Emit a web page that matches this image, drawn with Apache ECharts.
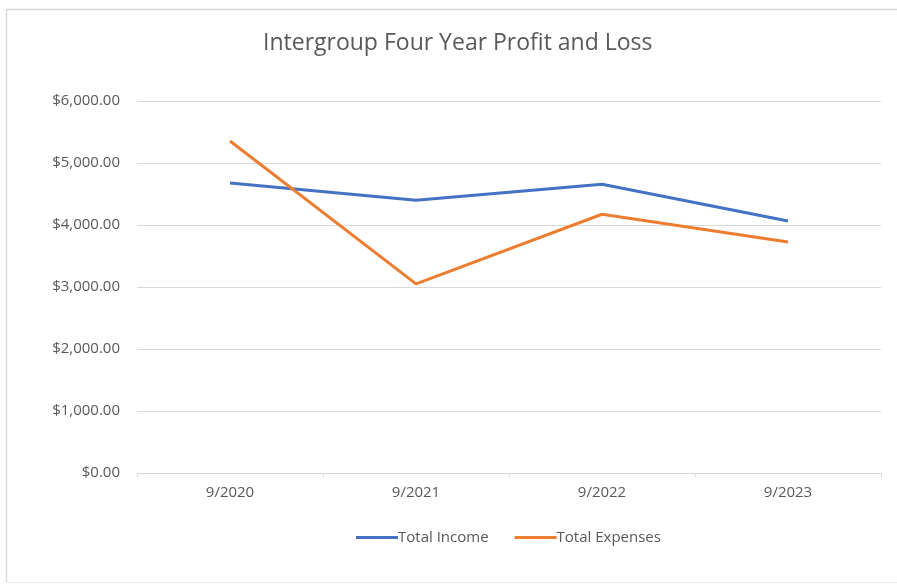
<!DOCTYPE html>
<html>
<head>
<meta charset="utf-8">
<script src="https://cdn.jsdelivr.net/npm/echarts@6/dist/echarts.min.js"></script>
<style>
html,body{margin:0;padding:0;background:#fff;}
#chart{width:897px;height:585px;}
</style>
</head>
<body>
<div id="chart"></div>
<script>
const categories = ['9/2020', '9/2021', '9/2022', '9/2023'];
const totalIncome = [4677, 4398, 4656, 4065];
const totalExpenses = [5355, 3050, 4173, 3726];
const yTicks = { min: 0, max: 6000, interval: 1000 };

const chart = echarts.init(document.getElementById('chart'), null, { renderer: 'canvas' });
const font = 'Open Sans';
chart.setOption({
  animation: false,
  backgroundColor: '#fff',
  title: {
    text: 'Intergroup Four Year Profit and Loss',
    left: 258,
    top: 27,
    textStyle: { fontFamily: font, fontSize: 23, fontWeight: 'normal', color: '#595959' }
  },
  legend: {
    top: 525,
    left: 351,
    itemWidth: 42,
    itemHeight: 3,
    itemGap: 26,
    icon: 'rect',
    textStyle: { fontFamily: font, fontSize: 15, color: '#595959', padding: [0, 0, 0, -5] },
    data: ['Total Income', 'Total Expenses']
  },
  grid: { left: 137, right: 16, top: 101, bottom: 112 },
  xAxis: {
    type: 'category',
    data: categories,
    boundaryGap: true,
    axisLine: { lineStyle: { color: '#d9d9d9', width: 1 } },
    axisTick: { show: true, length: 4, lineStyle: { color: '#d9d9d9' } },
    axisLabel: { fontFamily: font, fontSize: 15, color: '#595959', margin: 12 }
  },
  yAxis: {
    type: 'value',
    min: yTicks.min,
    max: yTicks.max,
    interval: yTicks.interval,
    axisLine: { show: false },
    axisTick: { show: false },
    splitLine: { lineStyle: { color: '#d9d9d9', width: 1 } },
    axisLabel: {
      fontFamily: font, fontSize: 15, color: '#595959', margin: 17,
      formatter: v => '$' + v.toLocaleString('en-US', { minimumFractionDigits: 2, maximumFractionDigits: 2 })
    }
  },
  series: [
    {
      name: 'Total Income', type: 'line', data: totalIncome,
      symbol: 'none', lineStyle: { color: '#4472C4', width: 3 }, itemStyle: { color: '#4472C4' }
    },
    {
      name: 'Total Expenses', type: 'line', data: totalExpenses,
      symbol: 'none', lineStyle: { color: '#ED7D31', width: 3 }, itemStyle: { color: '#ED7D31' }
    }
  ],
  graphic: [
    { type: 'line', shape: { x1: 6, y1: 9.5, x2: 897, y2: 9.5 }, style: { stroke: '#d9d9d9', lineWidth: 1.5 } },
    { type: 'line', shape: { x1: 6.5, y1: 9, x2: 6.5, y2: 583 }, style: { stroke: '#d9d9d9', lineWidth: 1.5 } },
    { type: 'line', shape: { x1: 6, y1: 582.5, x2: 897, y2: 582.5 }, style: { stroke: '#eeeeee', lineWidth: 1 } }
  ]
});
</script>
</body>
</html>
